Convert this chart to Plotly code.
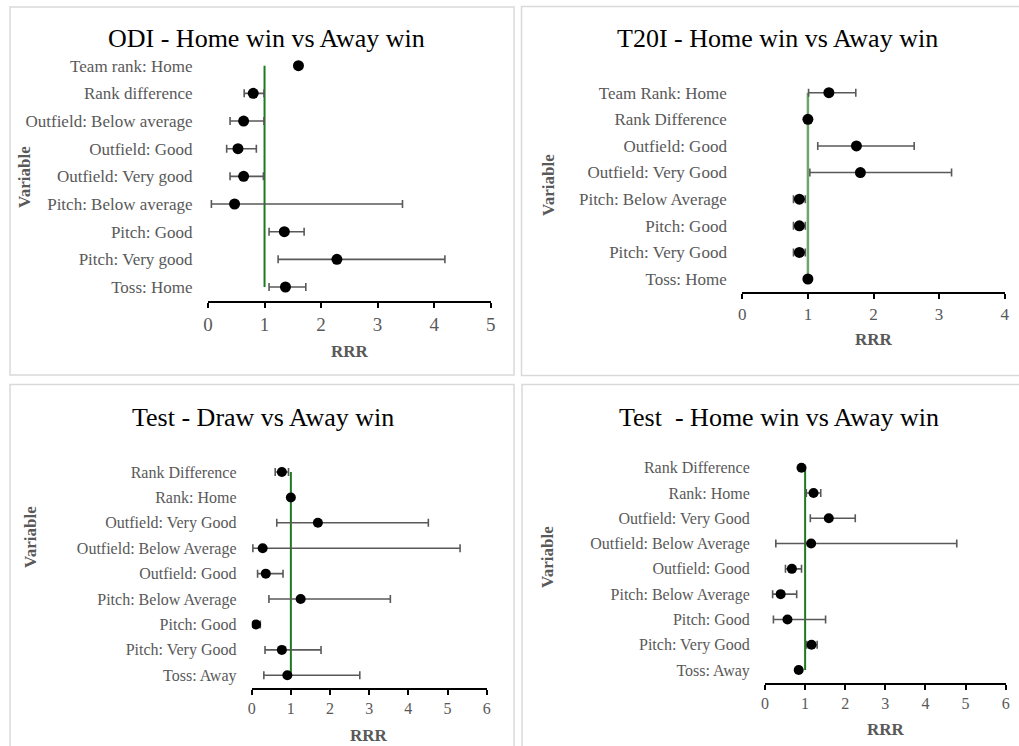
import plotly.graph_objects as go

W, H = 1019, 746

# ---------------- data ----------------
odi_vars = ["Team rank: Home", "Rank difference", "Outfield: Below average", "Outfield: Good",
            "Outfield: Very good", "Pitch: Below average", "Pitch: Good", "Pitch: Very good", "Toss: Home"]
odi_rrr = [1.60, 0.80, 0.63, 0.53, 0.63, 0.47, 1.35, 2.28, 1.37]
odi_lo = [1.56, 0.64, 0.39, 0.33, 0.39, 0.06, 1.08, 1.24, 1.08]
odi_hi = [1.64, 0.99, 0.99, 0.855, 0.98, 3.44, 1.70, 4.19, 1.73]

t20_vars = ["Team Rank: Home", "Rank Difference", "Outfield: Good", "Outfield: Very Good",
            "Pitch: Below Average", "Pitch: Good", "Pitch: Very Good", "Toss: Home"]
t20_rrr = [1.32, 1.00, 1.74, 1.80, 0.87, 0.87, 0.87, 1.00]
t20_lo = [1.01, 0.99, 1.15, 1.03, 0.78, 0.78, 0.78, 0.99]
t20_hi = [1.73, 1.01, 2.62, 3.19, 0.96, 0.96, 0.96, 1.01]

td_vars = ["Rank Difference", "Rank: Home", "Outfield: Very Good", "Outfield: Below Average",
           "Outfield: Good", "Pitch: Below Average", "Pitch: Good", "Pitch: Very Good", "Toss: Away"]
td_rrr = [0.77, 1.00, 1.69, 0.28, 0.36, 1.25, 0.11, 0.77, 0.91]
td_lo = [0.60, 0.97, 0.64, 0.03, 0.15, 0.44, 0.05, 0.34, 0.31]
td_hi = [0.94, 1.03, 4.51, 5.32, 0.80, 3.54, 0.22, 1.77, 2.76]

th_vars = ["Rank Difference", "Rank: Home", "Outfield: Very Good", "Outfield: Below Average",
           "Outfield: Good", "Pitch: Below Average", "Pitch: Good", "Pitch: Very Good", "Toss: Away"]
th_rrr = [0.91, 1.21, 1.59, 1.15, 0.67, 0.39, 0.56, 1.16, 0.84]
th_lo = [0.88, 1.03, 1.13, 0.27, 0.51, 0.19, 0.21, 1.04, 0.79]
th_hi = [0.94, 1.39, 2.25, 4.78, 0.91, 0.79, 1.51, 1.30, 0.90]

titles = ["ODI - Home win vs Away win", "T20I - Home win vs Away win",
          "Test - Draw vs Away win", "Test  - Home win vs Away win"]
x_max = [5, 4, 6, 6]

# ---------------- layout helpers ----------------
def px(x):
    return x / W

def py(y):
    return 1 - y / H

SERIF = "Liberation Serif, Times New Roman, serif"
GRAY = "#595959"

panels = [
    dict(vars=odi_vars, rrr=odi_rrr, lo=odi_lo, hi=odi_hi, xdom=(208, 490.7), ytop=65.7, ybot=287,
         green="#1f7a1f", gw=2, ms=11, tfs=19, yfs=17,
         title_xy=(266, 38), var_xy=(24, 177), rrr_xy=(350, 351)),
    dict(vars=t20_vars, rrr=t20_rrr, lo=t20_lo, hi=t20_hi, xdom=(742.3, 1004.7), ytop=92.7, ybot=279,
         green="#6ea66e", gw=2.5, ms=11, tfs=17, yfs=17,
         title_xy=(777.5, 38), var_xy=(548, 185), rrr_xy=(874, 339)),
    dict(vars=td_vars, rrr=td_rrr, lo=td_lo, hi=td_hi, xdom=(251.7, 486.7), ytop=472, ybot=675.3,
         green="#1f7a1f", gw=2, ms=10, tfs=16, yfs=16,
         title_xy=(263, 417), var_xy=(30, 537), rrr_xy=(369, 735)),
    dict(vars=th_vars, rrr=th_rrr, lo=th_lo, hi=th_hi, xdom=(765, 1005.7), ytop=467.7, ybot=670,
         green="#1f7a1f", gw=2, ms=10, tfs=16, yfs=16,
         title_xy=(778.7, 417), var_xy=(547, 557), rrr_xy=(885.7, 729)),
]

fig = go.Figure()
annotations = []
layout = dict(width=W, height=H, autosize=False, margin=dict(l=0, r=0, t=0, b=0, pad=0),
              paper_bgcolor="white", plot_bgcolor="white", showlegend=False,
              font=dict(family=SERIF, color=GRAY))

for i, p in enumerate(panels):
    n = len(p["vars"])
    sp = (p["ybot"] - p["ytop"]) / (n - 1)
    dom_top = p["ytop"] - sp / 2
    dom_bot = p["ybot"] + sp / 2
    xa = "x" if i == 0 else f"x{i+1}"
    ya = "y" if i == 0 else f"y{i+1}"
    xkey = "xaxis" if i == 0 else f"xaxis{i+1}"
    ykey = "yaxis" if i == 0 else f"yaxis{i+1}"

    # reference line at RRR = 1
    fig.add_trace(go.Scatter(x=[1, 1], y=[p["vars"][0], p["vars"][-1]], mode="lines",
                             line=dict(color=p["green"], width=p["gw"]),
                             xaxis=xa, yaxis=ya, hoverinfo="skip"))
    plus = [h - r for h, r in zip(p["hi"], p["rrr"])]
    minus = [r - l for r, l in zip(p["rrr"], p["lo"])]
    fig.add_trace(go.Scatter(x=p["rrr"], y=p["vars"], mode="markers",
                             marker=dict(color="black", size=p["ms"]),
                             error_x=dict(type="data", symmetric=False, array=plus, arrayminus=minus,
                                          color=GRAY, thickness=1.6, width=4),
                             xaxis=xa, yaxis=ya))

    layout[xkey] = dict(domain=[px(p["xdom"][0]), px(p["xdom"][1])], anchor=ya, automargin=False,
                        range=[0, x_max[i]], dtick=1, tick0=0, showgrid=False, zeroline=False,
                        showline=True, linecolor="black", linewidth=2,
                        ticks="outside", ticklen=5, tickwidth=2, tickcolor="black",
                        tickfont=dict(family=SERIF, size=p["tfs"], color=GRAY))
    layout[ykey] = dict(domain=[py(dom_bot), py(dom_top)], anchor=xa, automargin=False,
                        type="category", categoryorder="array", categoryarray=p["vars"][::-1],
                        range=[-0.5, n - 0.5], showgrid=False, zeroline=False, showline=False,
                        ticks="outside", ticklen=11, tickcolor="rgba(0,0,0,0)",
                        tickfont=dict(family=SERIF, size=p["yfs"], color=GRAY))

    annotations.append(dict(text=titles[i], x=px(p["title_xy"][0]), y=py(p["title_xy"][1]),
                            xref="paper", yref="paper", showarrow=False, xanchor="center",
                            yanchor="middle", font=dict(family=SERIF, size=26, color="black")))
    annotations.append(dict(text="<b>Variable</b>", x=px(p["var_xy"][0]), y=py(p["var_xy"][1]),
                            xref="paper", yref="paper", showarrow=False, textangle=-90,
                            xanchor="center", yanchor="middle",
                            font=dict(family=SERIF, size=17, color=GRAY)))
    annotations.append(dict(text="<b>RRR</b>", x=px(p["rrr_xy"][0]), y=py(p["rrr_xy"][1]),
                            xref="paper", yref="paper", showarrow=False,
                            xanchor="center", yanchor="middle",
                            font=dict(family=SERIF, size=17, color=GRAY)))

# panel borders
borders = [(10, 7, 514, 375), (521.5, 6.5, 1022, 375.5), (10, 384.5, 514, 752), (522, 384.5, 1022, 752)]
shapes = []
for x0, y0, x1, y1 in borders:
    shapes.append(dict(type="rect", xref="paper", yref="paper", x0=px(x0), x1=px(x1),
                       y0=py(y1), y1=py(y0), line=dict(color="#d9d9d9", width=1.5), layer="below"))

layout["annotations"] = annotations
layout["shapes"] = shapes
fig.update_layout(**layout)

page_fix = ("document.documentElement.style.margin='0';document.body.style.margin='0';"
            "document.body.style.padding='0';document.documentElement.style.overflow='hidden';")
fig.write_html("out.html", post_script=page_fix, config={"displayModeBar": False})
